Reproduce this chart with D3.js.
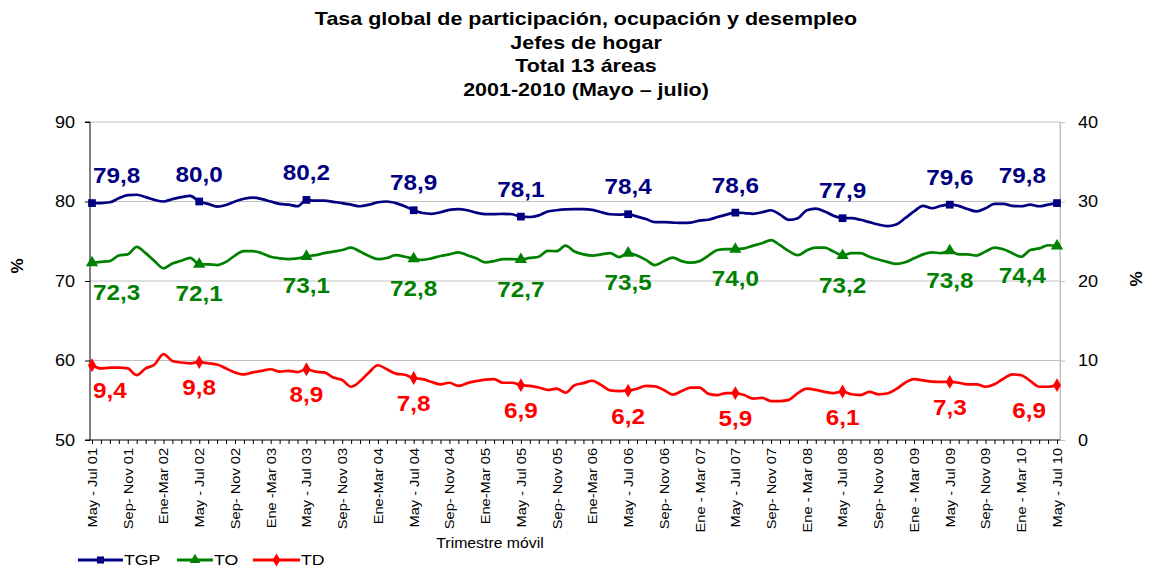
<!DOCTYPE html>
<html><head><meta charset="utf-8">
<script src="https://cdn.jsdelivr.net/npm/d3@7"></script>
<style>
body{margin:0;background:#fff;}
svg{font-family:"Liberation Sans",Arial,sans-serif;}
</style></head>
<body><svg id="c" width="1149" height="567"></svg>
<script>
const tickLabels = ["May - Jul 01","Sep- Nov 01","Ene-Mar 02","May - Jul 02","Sep- Nov 02","Ene -Mar 03","May - Jul 03","Sep- Nov 03","Ene-Mar 04","May - Jul 04","Sep- Nov 04","Ene-Mar 05","May - Jul 05","Sep- Nov 05","Ene-Mar 06","May - Jul 06","Sep- Nov 06","Ene - Mar 07","May - Jul 07","Sep- Nov 07","Ene - Mar 08","May - Jul 08","Sep- Nov 08","Ene - Mar 09","May - Jul 09","Sep- Nov 09","Ene - Mar 10","May - Jul 10"];

const TGP = [79.8,79.8,79.9,80.4,80.8,80.85,80.55,80.2,80.0,80.3,80.55,80.7,
80.0,79.7,79.35,79.55,80.0,80.35,80.5,80.3,80.0,79.7,79.6,79.4,
80.2,80.1,80.1,79.95,79.8,79.6,79.4,79.6,79.9,80.0,79.8,79.4,
78.9,78.55,78.45,78.65,78.95,79.05,78.9,78.6,78.4,78.4,78.45,78.4,
78.1,78.05,78.25,78.75,78.9,79.0,79.05,79.05,78.95,78.65,78.4,78.35,
78.4,78.1,77.8,77.4,77.4,77.35,77.3,77.35,77.6,77.7,78.05,78.35,
78.6,78.55,78.45,78.65,78.9,78.35,77.7,77.9,78.9,79.1,78.75,78.2,
77.9,77.9,77.7,77.4,77.1,76.9,77.1,77.9,78.75,79.45,79.15,79.45,
79.6,79.45,79.05,78.75,79.15,79.7,79.7,79.45,79.4,79.6,79.4,79.6,
79.8];

const TO = [72.3,72.4,72.5,73.2,73.35,74.3,73.5,72.5,71.6,72.2,72.55,72.9,
72.1,72.1,72.0,72.4,73.2,73.75,73.75,73.5,73.05,72.85,72.75,72.85,
73.1,73.25,73.5,73.7,73.9,74.2,73.7,73.15,72.75,72.9,73.25,73.05,
72.8,72.65,72.85,73.15,73.35,73.6,73.25,72.85,72.35,72.5,72.75,72.75,
72.7,72.9,73.05,73.8,73.75,74.45,73.7,73.35,73.2,73.35,73.5,73.0,
73.5,73.2,72.65,72.0,72.5,72.95,72.5,72.3,72.5,73.2,73.9,74.0,
74.0,74.1,74.45,74.75,75.15,74.5,73.75,73.25,73.85,74.2,74.2,73.7,
73.2,73.5,73.5,73.05,72.7,72.4,72.15,72.35,72.85,73.35,73.6,73.5,
73.8,73.35,73.35,73.2,73.7,74.2,74.0,73.5,73.05,73.9,74.1,74.5,
74.4];

const TD = [9.4,9.0,9.1,9.1,9.0,8.15,9.0,9.5,10.8,9.95,9.75,9.65,
9.8,9.65,9.5,9.0,8.5,8.25,8.5,8.7,8.9,8.6,8.7,8.55,
8.9,8.6,8.5,7.85,7.55,6.7,7.4,8.5,9.4,8.9,8.35,8.2,
7.8,7.65,7.3,7.0,7.2,6.8,7.15,7.4,7.6,7.65,7.2,7.2,
6.9,6.8,6.6,6.3,6.45,5.95,6.9,7.15,7.45,6.9,6.25,6.15,
6.2,6.45,6.8,6.75,6.3,5.7,6.15,6.6,6.6,5.8,5.65,5.9,
5.9,5.65,5.2,5.3,4.9,4.9,5.05,5.9,6.45,6.3,6.05,5.9,
6.1,5.75,5.65,6.05,5.75,5.85,6.4,7.2,7.65,7.5,7.35,7.3,
7.3,7.2,7.0,7.0,6.7,7.0,7.7,8.25,8.15,7.45,6.7,6.7,
6.9];

const titleLines = ["Tasa global de participación, ocupación y desempleo","Jefes de hogar","Total 13 áreas","2001-2010 (Mayo – julio)"];
const leftTicks = [50,60,70,80,90];
const rightTicks = [0,10,20,30,40];
const seriesNames = ["TGP","TO","TD"];
const colors = {TGP:"#000080",TO:"#008000",TD:"#ff0000"};

const SX = 1.13; // horizontal text stretch seen in reference
const svg = d3.select("#c");
const L=90,R=1060,T=122,B=440;
const n = TGP.length;
const x = d3.scaleLinear().domain([0,n-1]).range([92,1057]);
const yL = d3.scaleLinear().domain([50,90]).range([B,T]);
const yR = d3.scaleLinear().domain([0,40]).range([B,T]);

function stretchText(sel, px, py, sx){
  sel.attr("x",0).attr("y",0).attr("transform",`translate(${px},${py}) scale(${sx||SX},1)`);
}

// title
svg.append("g").selectAll("text").data(titleLines).join("text")
  .attr("text-anchor","middle").attr("font-size",19).attr("font-weight","bold")
  .each(function(d,i){ stretchText(d3.select(this),586,25+i*23.5); })
  .text(d=>d);

// gridlines
svg.append("g").selectAll("line").data(leftTicks.filter(v=>v>50)).join("line")
  .attr("x1",L).attr("x2",R).attr("y1",d=>yL(d)).attr("y2",d=>yL(d))
  .attr("stroke","#c0c0c0").attr("stroke-width",1);
svg.append("line").attr("x1",R).attr("x2",R).attr("y1",T).attr("y2",B).attr("stroke","#c0c0c0");

// axes
const gl = svg.append("g").attr("transform",`translate(${L},0)`)
  .call(d3.axisLeft(yL).tickValues(leftTicks).tickSize(5).tickPadding(0).tickFormat(d3.format("d")));
gl.select(".domain").attr("d",`M-5,${T}H0V${B}H-5`);
gl.selectAll(".tick text").attr("font-size",16).attr("font-family","Liberation Sans, Arial")
  .attr("x",0).attr("transform",`translate(-15,0) scale(${SX},1)`);
const gr = svg.append("g").attr("transform",`translate(${R},0)`)
  .call(d3.axisRight(yR).tickValues(rightTicks).tickSize(5).tickPadding(0).tickFormat(d3.format("d")));
gr.select(".domain").attr("stroke","#c0c0c0");
gr.selectAll(".tick line").attr("stroke","#c0c0c0");
gr.selectAll(".tick text").attr("font-size",16).attr("font-family","Liberation Sans, Arial")
  .attr("x",0).attr("transform",`translate(18,0) scale(${SX},1)`);

const gx = svg.append("g").attr("transform",`translate(0,${B})`)
  .call(d3.axisBottom(x).tickValues(d3.range(n)).tickSize(4)
    .tickFormat(i=> i%4===0 ? tickLabels[i/4] : ""));
gx.select(".domain").attr("d",`M${L},0H${R}`);
gx.selectAll("text").attr("font-size",12).attr("font-family","Liberation Sans, Arial")
  .attr("text-anchor","end").attr("dy","0.35em")
  .attr("transform","translate(0,3) rotate(-90) scale(1.22,1.05)").attr("x",-4).attr("y",0);

// axis titles
svg.append("text").attr("transform","translate(23,266) rotate(-90)").attr("text-anchor","middle")
  .attr("font-size",17).attr("font-weight","bold").text("%");
svg.append("text").attr("transform","translate(1142,279) rotate(-90)").attr("text-anchor","middle")
  .attr("font-size",17).attr("font-weight","bold").text("%");
svg.append("text").attr("text-anchor","middle").attr("font-size",14)
  .call(s=>stretchText(s,490,548)).text("Trimestre móvil");

// lines
const defs = [
  {name:"TGP",data:TGP,y:yL,sym:d3.symbolSquare,size:60,dy:-20},
  {name:"TO",data:TO,y:yL,sym:d3.symbolTriangle,size:65,dy:37},
  {name:"TD",data:TD,y:yR,sym:d3.symbolDiamond,size:55,dy:33}
];
const fmt = v=>d3.format(".1f")(v).replace(".",",");
defs.forEach(s=>{
  const line = d3.line().x((d,i)=>x(i)).y(d=>s.y(d)).curve(d3.curveMonotoneX);
  svg.append("path").datum(s.data).attr("d",line).attr("fill","none")
    .attr("stroke",colors[s.name]).attr("stroke-width",2.7);
  const idx = d3.range(0,n,12);
  svg.append("g").selectAll("path").data(idx).join("path")
    .attr("d",d3.symbol(s.sym,s.size)).attr("fill",colors[s.name])
    .attr("transform",i=>`translate(${x(i)},${s.y(s.data[i])})`);
  svg.append("g").selectAll("text").data(idx).join("text")
    .attr("text-anchor",i=> i===0 ? "start" : (i===n-1 ? "end" : "middle"))
    .attr("font-size",21.5).attr("font-weight","bold").attr("fill",colors[s.name])
    .each(function(i){
      const px = i===0 ? x(i)+1 : (i===n-1 ? x(i)-11 : x(i));
      stretchText(d3.select(this), px, s.y(s.data[i])+s.dy);
    })
    .text(i=>fmt(s.data[i]));
});

// legend
const lg = svg.append("g").attr("transform","translate(0,560)");
const legSym=[d3.symbolSquare,d3.symbolTriangle,d3.symbolDiamond];
const legX=[[78,123],[177,213],[253,300]];
seriesNames.forEach((nm,k)=>{
  const [a,b]=legX[k];
  lg.append("line").attr("x1",a).attr("x2",b).attr("stroke",colors[nm]).attr("stroke-width",3);
  lg.append("path").attr("d",d3.symbol(legSym[k],50)).attr("fill",colors[nm]).attr("transform",`translate(${(a+b)/2},0)`);
  lg.append("text").attr("font-size",15).call(t=>stretchText(t,b+1,5,1.18)).text(nm);
});
</script></body></html>
